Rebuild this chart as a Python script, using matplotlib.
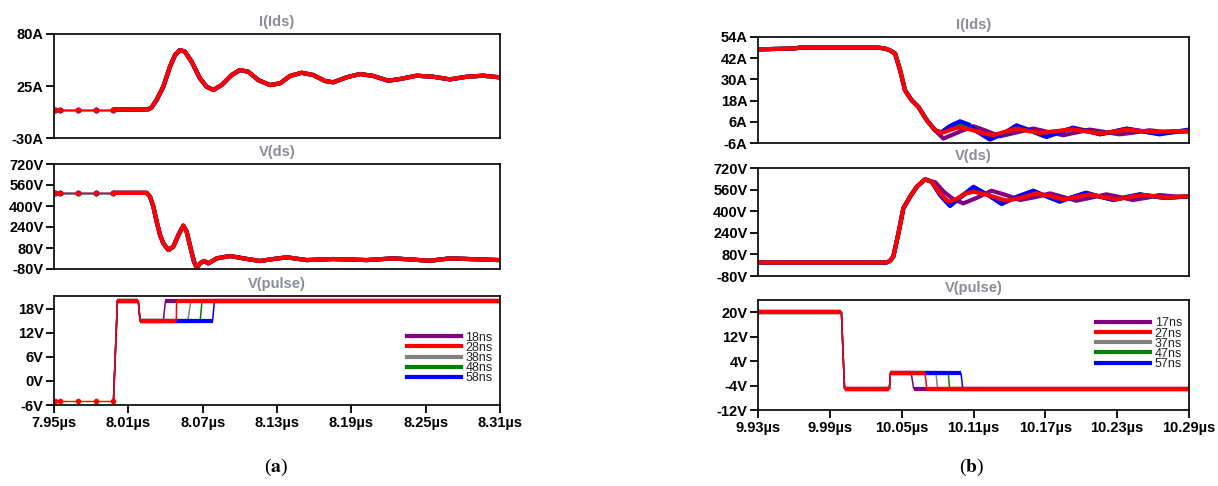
import matplotlib.pyplot as plt
from matplotlib.lines import Line2D

plt.rcParams['font.family'] = ['Liberation Sans', 'DejaVu Sans']
plt.rcParams['mathtext.fontset'] = 'stix'

series = ['purple', 'grey', 'green', 'blue', 'red']
colors = {'purple': '#800080', 'red': '#ff0000', 'grey': '#808080',
          'green': '#008000', 'blue': '#0000ff'}
labels_a = {'purple': '18ns', 'red': '28ns', 'grey': '38ns', 'green': '48ns', 'blue': '58ns'}
labels_b = {'purple': '17ns', 'red': '27ns', 'grey': '37ns', 'green': '47ns', 'blue': '57ns'}
legend_order = ['purple', 'red', 'grey', 'green', 'blue']

# ---------------- (a) turn-on ----------------
sparse_t_a = [7.951, 7.955, 7.969, 7.984, 7.998]
ids_sparse_a = [0, 0, 0, 0, 0]
vds_sparse_a = [500, 500, 500, 500, 500]
pulse_sparse_a = [-5, -5, -5, -5, -5]

ids_t_a = [7.998, 8.020, 8.0265, 8.0288, 8.0328, 8.0382, 8.0436, 8.0477, 8.0517, 8.0557,
           8.0611, 8.0678, 8.0732, 8.0786, 8.0853, 8.0934, 8.1001, 8.1068, 8.1149, 8.1243,
           8.1324, 8.1405, 8.1499, 8.1593, 8.1687, 8.1754, 8.1862, 8.197, 8.2077, 8.2198,
           8.2293, 8.2427, 8.2561, 8.2696, 8.2831, 8.2965, 8.3093]
ids_a = [0, 0, 0.5, 2.4, 10.2, 24.2, 45.4, 57.8, 63.0, 61.3,
         50.7, 33.1, 24.2, 20.8, 26.0, 36.6, 41.9, 40.1, 31.3, 26.0,
         27.8, 35.6, 39.0, 36.6, 30.3, 28.9, 34.2, 37.7, 35.6, 30.6,
         32.4, 35.9, 34.8, 32.0, 34.8, 35.9, 34.2]

vds_t_a = [7.998, 8.0248, 8.0275, 8.0302, 8.0329, 8.0356, 8.0382, 8.0423, 8.0463, 8.0504,
           8.0544, 8.0571, 8.0603, 8.063, 8.0652, 8.0679, 8.0711, 8.0746, 8.0813, 8.0921,
           8.1028, 8.1163, 8.127, 8.1378, 8.154, 8.1754, 8.2024, 8.2239, 8.2535, 8.2696, 8.3093]
vds_a = [500, 500, 471, 395, 280, 179, 116, 65, 90, 179,
         250, 204, 78, -24, -70, -37, -19, -37, 1, 19,
         1, -19, -4, 9, -12, -4, -12, 1, -17, 1, -12]

pulse_head_t_a = [7.998, 8.0012, 8.018, 8.0195]
pulse_head_a = [-5, 20, 20, 15]
pulse_rise_a = {'purple': (8.0382, 8.040), 'red': (8.0487, 8.049), 'grey': (8.058, 8.0605),
                'green': (8.068, 8.0695), 'blue': (8.078, 8.0795)}
t_end_a = 8.31

# ---------------- (b) turn-off ----------------
ids_head_t_b = [9.93, 9.96, 9.965, 10.030, 10.036, 10.040, 10.0445, 10.0487, 10.0528,
                10.0584, 10.064, 10.071, 10.0779]
ids_head_b = [47, 47.5, 48, 48, 47.5, 46.5, 44.6, 35.2, 23.8, 18.2, 14.4, 6.9, 1.2]
ids_tail_t_b = {
    'red': [10.0834, 10.089, 10.096, 10.103, 10.11, 10.118, 10.1265, 10.136, 10.146, 10.156,
            10.1655, 10.18, 10.193, 10.205, 10.2155, 10.227, 10.2378, 10.25, 10.262, 10.275, 10.29],
    'blue': [10.083, 10.09, 10.0987, 10.106, 10.113, 10.1237, 10.134, 10.146, 10.158, 10.171,
             10.182, 10.193, 10.205, 10.2155, 10.227, 10.2378, 10.252, 10.2655, 10.278, 10.29],
    'purple': [10.0848, 10.097, 10.11, 10.121, 10.132, 10.146, 10.16, 10.172, 10.185, 10.196,
               10.207, 10.22, 10.232, 10.245, 10.257, 10.272, 10.29],
    'grey': [10.083, 10.09, 10.097, 10.105, 10.112, 10.125, 10.135, 10.146, 10.157, 10.168,
             10.18, 10.193, 10.205, 10.216, 10.227, 10.238, 10.252, 10.265, 10.278, 10.29],
    'green': [10.083, 10.09, 10.097, 10.105, 10.112, 10.125, 10.135, 10.146, 10.157, 10.168,
              10.18, 10.193, 10.205, 10.216, 10.227, 10.238, 10.252, 10.265, 10.278, 10.29],
}
ids_tail_b = {
    'red': [-0.3, 1.0, 2.7, 2.3, 1.2, -0.5, -1.6, 0.3, 2.2, 0.8,
            -0.3, 0.8, 1.8, 0.5, -0.7, 0.4, 1.6, 0.8, 0.3, 0.7, 0.8],
    'blue': [0.0, 3.5, 6.3, 4.5, 0.5, -4.1, -1.0, 4.0, 1.0, -2.6,
             0.0, 2.7, 0.8, -1.1, 0.5, 2.2, 0.5, -1.1, 0.3, 1.6],
    'purple': [-3.5, 0.0, 3.5, 0.8, -2.2, 0.0, 2.2, 0.3, -1.6, 0.0,
               1.6, 0.2, -1.1, 0.0, 1.2, 0.0, 0.5],
    'grey': [0.0, 2.2, 3.6, 3.0, 0.9, -2.4, -0.3, 2.8, 0.9, -1.2,
             0.4, 2.1, 0.6, -0.8, 0.4, 1.8, 0.6, -0.5, 0.4, 1.0],
    'green': [0.0, 2.9, 5.0, 3.8, 0.7, -3.3, -0.7, 3.4, 1.0, -1.9,
              0.2, 2.4, 0.7, -1.0, 0.5, 2.0, 0.5, -0.8, 0.3, 1.3],
}

vds_head_t_b = [9.93, 10.037, 10.040, 10.043, 10.0473, 10.0514, 10.057, 10.0626, 10.0695, 10.075]
vds_head_b = [20, 20, 30, 63, 236, 421, 507, 581, 636, 619]
vds_tail_t_b = {
    'red': [10.082, 10.089, 10.096, 10.103, 10.11, 10.12, 10.1375, 10.15, 10.1625, 10.175,
            10.185, 10.196, 10.207, 10.218, 10.2295, 10.24, 10.252, 10.262, 10.271, 10.29],
    'blue': [10.082, 10.0904, 10.1, 10.11, 10.122, 10.1335, 10.147, 10.16, 10.171, 10.182,
             10.193, 10.204, 10.215, 10.2266, 10.238, 10.249, 10.26, 10.27, 10.29],
    'purple': [10.078, 10.085, 10.093, 10.1015, 10.113, 10.125, 10.137, 10.149, 10.162, 10.174,
               10.185, 10.196, 10.208, 10.221, 10.232, 10.243, 10.255, 10.265, 10.277, 10.29],
    'grey': [10.082, 10.0895, 10.098, 10.11, 10.122, 10.134, 10.147, 10.16, 10.171, 10.182,
             10.193, 10.204, 10.215, 10.227, 10.238, 10.249, 10.26, 10.27, 10.29],
    'green': [10.082, 10.0895, 10.098, 10.11, 10.122, 10.134, 10.147, 10.16, 10.171, 10.182,
              10.193, 10.204, 10.215, 10.227, 10.238, 10.249, 10.26, 10.27, 10.29],
}
vds_tail_b = {
    'red': [532, 470, 490, 530, 545, 525, 478, 500, 532, 510,
            488, 505, 525, 505, 488, 505, 520, 510, 500, 512],
    'blue': [520, 438, 510, 581, 520, 453, 510, 552, 510, 470,
             505, 537, 510, 483, 505, 525, 510, 498, 510],
    'purple': [615, 545, 490, 458, 500, 552, 520, 483, 505, 532,
               505, 478, 500, 525, 505, 483, 500, 520, 510, 505],
    'grey': [528, 458, 495, 565, 525, 465, 505, 542, 510, 478,
             505, 532, 508, 486, 505, 522, 510, 499, 511],
    'green': [524, 448, 502, 573, 522, 459, 508, 547, 510, 474,
              505, 535, 509, 484, 505, 524, 510, 498, 510],
}

pulse_head_t_b = [9.93, 9.9997, 10.001, 10.0023, 10.0398, 10.0405]
pulse_head_b = [20, 20, 7, -5, -5, 0]
pulse_fall_b = {'purple': (10.058, 10.060), 'red': (10.0695, 10.071), 'grey': (10.0787, 10.080),
                'green': (10.089, 10.090), 'blue': (10.0996, 10.101)}
t_end_b = 10.29

xticks_a = [7.95, 8.01, 8.07, 8.13, 8.19, 8.25, 8.31]
xticks_b = [9.93, 9.99, 10.05, 10.11, 10.17, 10.23, 10.29]

# ---------------- figure ----------------
W, H = 1218, 486
fig = plt.figure(figsize=(W / 100, H / 100), dpi=100)


def place(left, right, top, bottom):
    return fig.add_axes([left / W, 1 - bottom / H, (right - left) / W, (bottom - top) / H])


def style(ax, title, yticks, unit, xlim, xticks=None):
    ax.set_xlim(xlim)
    ax.set_ylim(yticks[0], yticks[-1])
    ax.set_yticks(yticks)
    ax.set_yticklabels([f'{v}{unit}' for v in yticks], fontweight='bold', fontsize=10.5)
    ax.tick_params(axis='y', length=6, width=1.3, pad=1.5, direction='out')
    if xticks is None:
        ax.set_xticks([])
    else:
        ax.set_xticks(xticks)
        ax.set_xticklabels([f'{v:.2f}µs' for v in xticks], fontweight='bold', fontsize=10.5)
        ax.tick_params(axis='x', length=6, width=1.3, pad=2, direction='out')
    for sp in ax.spines.values():
        sp.set_linewidth(1.3)
        sp.set_color('#111111')
    ax.annotate(title, xy=(0.5, 1), xycoords='axes fraction', xytext=(0, 8.5),
                textcoords='offset points', ha='center', va='center',
                color='#8a8c96', fontweight='bold', fontsize=10.5)


def trace(ax, t, y, color, t_sparse=None, y_sparse=None):
    if t_sparse is not None:
        ax.plot(t_sparse, y_sparse, color=color, lw=1, marker='o', ms=3)
    ax.plot(t, y, color=color, lw=3, solid_capstyle='round', solid_joinstyle='round')


def pulse(ax, t, v, color):
    ax.plot(t, v, color=color, lw=1.1)
    for i in range(len(t) - 1):
        if v[i] == v[i + 1]:
            ax.plot(t[i:i + 2], v[i:i + 2], color=color, lw=3, solid_capstyle='butt')


def legend(ax, labels, x, y):
    handles = [Line2D([], [], color=colors[s], lw=3) for s in legend_order]
    ax.legend(handles, [labels[s] for s in legend_order], loc='center left',
              bbox_to_anchor=(x, y), frameon=False, fontsize=9, handlelength=4.3,
              handletextpad=0.4, labelspacing=-0.15, borderpad=0, borderaxespad=0,
              labelcolor='#222222')


# (a)
ax1 = place(54, 500, 34, 138)
ax2 = place(54, 500, 164, 269)
ax3 = place(54, 500, 296, 405)
xlim_a = (xticks_a[0], xticks_a[-1])
for s in series:
    trace(ax1, ids_t_a, ids_a, colors[s], sparse_t_a, ids_sparse_a)
    trace(ax2, vds_t_a, vds_a, colors[s], sparse_t_a, vds_sparse_a)
    r0, r1 = pulse_rise_a[s]
    pulse(ax3, pulse_head_t_a + [r0, r1, t_end_a], pulse_head_a + [15, 20, 20], colors[s])
ax3.plot(sparse_t_a, pulse_sparse_a, color=colors['red'], lw=1, marker='o', ms=3)
style(ax1, 'I(Ids)', [-30, 25, 80], 'A', xlim_a)
style(ax2, 'V(ds)', [-80, 80, 240, 400, 560, 720], 'V', xlim_a)
style(ax3, 'V(pulse)', [-6, 0, 6, 12, 18], 'V', xlim_a, xticks_a)
ax3.set_ylim(-6, 21.2)
legend(ax3, labels_a, 0.791, 0.432)

# (b)
bx1 = place(758, 1189, 37, 143)
bx2 = place(758, 1189, 168, 276)
bx3 = place(758, 1189, 300, 410)
xlim_b = (xticks_b[0], xticks_b[-1])
for s in series:
    trace(bx1, ids_head_t_b + ids_tail_t_b[s], ids_head_b + ids_tail_b[s], colors[s])
    trace(bx2, vds_head_t_b + vds_tail_t_b[s], vds_head_b + vds_tail_b[s], colors[s])
    f0, f1 = pulse_fall_b[s]
    pulse(bx3, pulse_head_t_b + [f0, f1, t_end_b], pulse_head_b + [0, -5, -5], colors[s])
style(bx1, 'I(Ids)', [-6, 6, 18, 30, 42, 54], 'A', xlim_b)
style(bx2, 'V(ds)', [-80, 80, 240, 400, 560, 720], 'V', xlim_b)
style(bx3, 'V(pulse)', [-12, -4, 4, 12, 20], 'V', xlim_b, xticks_b)
bx3.set_ylim(-12, 24)
legend(bx3, labels_b, 0.784, 0.603)

fig.text(276 / W, 1 - 467 / H, r'($\mathbf{a}$)', ha='center', va='center',
         fontsize=14, family='Liberation Serif')
fig.text(972 / W, 1 - 467 / H, r'($\mathbf{b}$)', ha='center', va='center',
         fontsize=14, family='Liberation Serif')

fig.savefig('out.png', dpi=100, facecolor='white')
